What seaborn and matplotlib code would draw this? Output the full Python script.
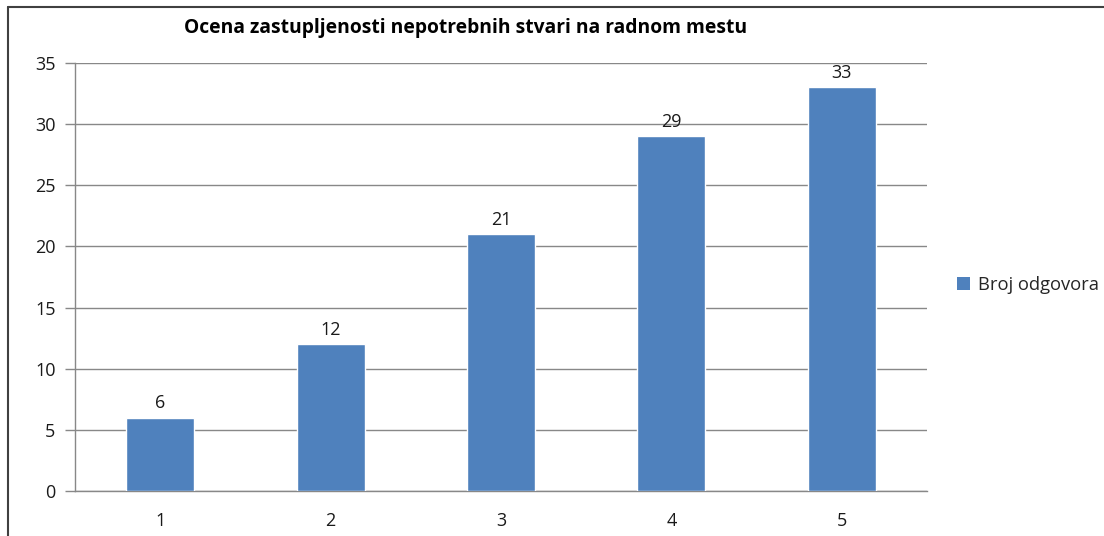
import matplotlib
matplotlib.use("Agg")
import matplotlib.pyplot as plt
import seaborn as sns
import pandas as pd
import numpy as np
from matplotlib.lines import Line2D
from matplotlib.patches import Patch

categories = ["1", "2", "3", "4", "5"]
values = [6, 12, 21, 29, 33]
series_name = "Broj odgovora"
title = "Ocena zastupljenosti nepotrebnih stvari na radnom mestu"
yticks = [0, 5, 10, 15, 20, 25, 30, 35]

sns.set_theme(style="white")
plt.rcParams['font.family'] = ['Open Sans', 'DejaVu Sans']

df = pd.DataFrame({"cat": categories, "val": values})

fig = plt.figure(figsize=(11.04, 5.36), dpi=100)
ax = fig.add_axes([75/1104, 45/536, 852/1104, 428/536])

bar_color = "#4F81BD"
sns.barplot(data=df, x="cat", y="val", color=bar_color, width=0.4,
            saturation=1, ax=ax, zorder=3)

ax.set_ylim(0, 35)
ax.set_xlim(-0.5, len(categories) - 0.5)
ax.set_yticks(yticks)
ax.set_yticklabels([str(t) for t in yticks], fontsize=13, color="#1a1a1a")
ax.yaxis.grid(True, color="#888888", linewidth=1, zorder=0)
ax.set_axisbelow(True)
ax.set_xlabel("")
ax.set_ylabel("")

# x ticks: labels at centers, tick marks at boundaries
ax.set_xticks(range(len(categories)))
ax.set_xticklabels(categories, fontsize=13, color="#1a1a1a")
ax.tick_params(axis="x", which="major", length=0, pad=15)
ax.set_xticks(np.arange(-0.5, len(categories), 1.0), minor=True)
ax.tick_params(axis="x", which="minor", length=6, width=1, color="#888888", direction="out")
ax.tick_params(axis="y", which="major", length=7, width=1, color="#888888", direction="out", pad=7, left=True)

for s in ["top", "right"]:
    ax.spines[s].set_visible(False)
for s in ["left", "bottom"]:
    ax.spines[s].set_color("#888888")
    ax.spines[s].set_linewidth(1)

for c in ax.containers:
    ax.bar_label(c, labels=[str(v) for v in values], padding=4, fontsize=13, color="#1a1a1a")

fig.text(466/1104, 1 - 28/536, title, ha="center", va="center",
         fontsize=13.9, fontweight="bold", color="#000000")

# legend
handle = Patch(facecolor=bar_color, edgecolor="none")
fig.legend([handle], [series_name], loc="center left",
           bbox_to_anchor=(940/1104, 1 - 285/536), frameon=False,
           fontsize=13.2, handlelength=0.75, handleheight=0.75, handletextpad=0.4)

# outer chart border (top and left visible)
fig.add_artist(Line2D([8/1104, 1.0], [1 - 7/536, 1 - 7/536], transform=fig.transFigure,
                      color="#404040", linewidth=1.5))
fig.add_artist(Line2D([8/1104, 8/1104], [0, 1 - 7/536], transform=fig.transFigure,
                      color="#404040", linewidth=1.5))

fig.savefig("out.png", dpi=100)
